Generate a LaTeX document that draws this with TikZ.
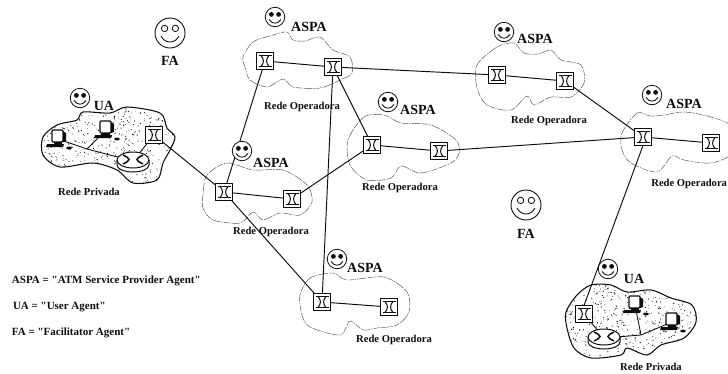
\documentclass[tikz,border=0pt]{standalone}
\usepackage{fontspec}
\setmainfont{Liberation Serif}
\newfontfamily\plainquotes[Ligatures=ResetAll]{Liberation Serif}
\usetikzlibrary{calc}
\definecolor{ink}{gray}{0.05}
\tikzset{
  x=1pt,y=-1pt,
  every node/.style={font=\bfseries,text=ink,inner sep=0pt,outer sep=0pt},
  agentlabel/.style={font=\bfseries\fontsize{14}{14}\selectfont},
  netlabel/.style={font=\bfseries\fontsize{10.6}{10}\selectfont},
  legend/.style={font=\plainquotes\bfseries\fontsize{11}{10}\selectfont,anchor=west},
  link/.style={draw=ink,line width=.95pt},
  thinlink/.style={draw=ink,line width=.85pt},
  cloudline/.style={draw=black!70,line width=.45pt,dash pattern=on 6pt off 1.1pt on 1.5pt off 1.1pt on 9pt off 1.4pt},
  privcloud/.style={draw=ink,line width=1.05pt},
  switchbox/.style={draw=ink,line width=1.2pt,fill=white,minimum width=17pt,minimum height=17pt,shape=rectangle},
  facebig/.style={draw=ink,line width=.9pt,shape=circle,minimum size=30pt,fill=white},
  facesmall/.style={draw=ink,line width=.8pt,shape=circle,minimum size=19.5pt,fill=white},
  routerbody/.style={draw=ink,line width=1pt,fill=white},
  cloudpath/.style={smooth cycle,tension=.5},
}
\newcommand{\swt}[2]{%
  \node[switchbox] (#1) at (#2) {};
  \draw[ink,line width=.9pt] ($(#1.north west)+(2,3)$) -- ($(#1.north east)+(-2,3)$);
  \draw[ink,line width=.9pt] ($(#1.south west)+(2,-3)$) -- ($(#1.south east)+(-2,-3)$);
  \draw[ink,line width=1pt] ($(#1.north)+(-4,3)$) .. controls ($(#1.center)+(-.8,-2)$) and ($(#1.center)+(-.8,2)$) .. ($(#1.south)+(-4,-3)$);
  \draw[ink,line width=1pt] ($(#1.north)+(4,3)$) .. controls ($(#1.center)+(.8,-2)$) and ($(#1.center)+(.8,2)$) .. ($(#1.south)+(4,-3)$);
}
\newcommand{\smil}[2]{%
  \node[facesmall] (#1) at (#2) {};
  \fill[ink] ($(#1.center)+(-3.6,-2.6)$) circle (2.4pt);
  \fill[ink] ($(#1.center)+(3.6,-2.6)$) circle (2.4pt);
  \draw[ink,line width=.8pt] ($(#1.center)+(-6,2.4)$) .. controls ($(#1.center)+(-3,7.5)$) and ($(#1.center)+(3,7.5)$) .. ($(#1.center)+(6,2.4)$);
}
\newcommand{\fac}[2]{%
  \node[facebig] (#1) at (#2) {};
  \draw[ink,line width=.8pt] ($(#1.center)+(-5.4,-4.6)$) circle (3.2pt);
  \draw[ink,line width=.8pt] ($(#1.center)+(5.4,-4.6)$) circle (3.2pt);
  \draw[ink,line width=.9pt] ($(#1.center)+(-9,3)$) .. controls ($(#1.center)+(-5,11)$) and ($(#1.center)+(5,11)$) .. ($(#1.center)+(9,3)$);
}
\newcommand{\pc}[2]{%
  \coordinate (#1) at (#2);
  \draw[ink,line width=1.3pt,fill=white,rounded corners=1pt] ($(#1)+(-6,-9)$) rectangle ($(#1)+(5,3)$);
  \fill[ink] ($(#1)+(5,-8)$) -- ($(#1)+(8,-6)$) -- ($(#1)+(8,2)$) -- ($(#1)+(5,3)$) -- cycle;
  \fill[ink] ($(#1)+(-11,5)$) -- ($(#1)+(6,5)$) -- ($(#1)+(5,8)$) -- ($(#1)+(-12,8)$) -- cycle;
  \fill[ink] ($(#1)+(-4,3)$) rectangle ($(#1)+(4,5)$);
  \fill[ink] ($(#1)+(11,9)$) ellipse (2.8pt and 1.5pt);
}
\newcommand{\rtr}[2]{%
  \coordinate (#1) at (#2);
  \draw[routerbody] ($(#1)+(-16,-1)$) -- ($(#1)+(-16,4)$) arc[start angle=180,end angle=360,x radius=16pt,y radius=7pt] -- ($(#1)+(16,-1)$);
  \draw[routerbody] ($(#1)+(0,-1)$) ellipse (16pt and 8pt);
  \draw[ink,line width=1.5pt] ($(#1)+(-10,-6)$) .. controls ($(#1)+(-2,-2)$) and ($(#1)+(-2,-1)$) .. ($(#1)+(-10,3)$);
  \draw[ink,line width=1.5pt] ($(#1)+(10,-6)$) .. controls ($(#1)+(2,-2)$) and ($(#1)+(2,-1)$) .. ($(#1)+(10,3)$);
}
\newcommand{\stipple}[4]{%
  \foreach \i in {1,...,#4}{%
    \pgfmathsetmacro{\px}{#1+rnd*#3}%
    \pgfmathsetmacro{\py}{#2+rnd*#3*.62}%
    \pgfmathsetmacro{\pr}{.3+rnd*.4}%
    \fill[ink] (\px,\py) circle (\pr pt);
  }%
}
\begin{document}
\begin{tikzpicture}
\useasboundingbox (0,0) rectangle (728,373);
\clip (0,0) rectangle (728,373);
\pgfmathsetseed{4242}

% operator clouds
\draw[cloudline] plot[cloudpath] coordinates {(243,57)(253,42)(273,35)(287,32)(293,40)(305,41)(320,37)(333,50)(350,57)(352,73)(340,80)(320,88)(293,87)(283,79)(267,87)(250,80)(245,67)};
\draw[cloudline] plot[cloudpath] coordinates {(477,65)(497,47)(514,43)(524,53)(538,54)(551,50)(561,60)(581,65)(584,83)(571,97)(551,97)(534,105)(527,96)(511,110)(487,105)(477,88)};
\draw[cloudline] plot[cloudpath] coordinates {(622,133)(637,113)(650,116)(664,115)(684,112)(711,117)(732,127)(732,153)(711,163)(684,160)(672,156)(657,172)(631,163)(622,150)};
\draw[cloudline] plot[cloudpath] coordinates {(348,140)(364,117)(384,115)(401,123)(431,125)(456,140)(459,153)(451,163)(421,173)(401,166)(391,178)(367,180)(350,165)};
\draw[cloudline] plot[cloudpath] coordinates {(207,175)(227,163)(253,170)(283,170)(307,185)(312,202)(300,215)(280,213)(263,220)(253,212)(240,223)(213,220)(203,208)(203,195)};
\draw[cloudline] plot[cloudpath] coordinates {(300,295)(310,278)(333,273)(347,280)(384,277)(407,292)(409,312)(397,325)(377,328)(363,330)(350,321)(340,335)(310,327)(302,315)};

% private clouds
\begin{scope}
\clip plot[cloudpath] coordinates {(43,137)(57,125)(77,120)(83,112)(110,113)(127,107)(160,113)(167,128)(175,137)(170,150)(163,163)(157,180)(133,183)(117,170)(93,163)(60,167)(43,155)};
\stipple{40}{105}{138}{620}
\end{scope}
\draw[privcloud] plot[cloudpath] coordinates {(43,137)(57,125)(77,120)(83,112)(110,113)(127,107)(160,113)(167,128)(175,137)(170,150)(163,163)(157,180)(133,183)(117,170)(93,163)(60,167)(43,155)};
\begin{scope}
\clip plot[cloudpath] coordinates {(566,312)(577,295)(591,285)(611,285)(627,292)(651,290)(671,298)(692,305)(696,322)(684,338)(661,345)(647,355)(627,348)(621,355)(591,358)(574,348)(567,328)};
\stipple{564}{283}{134}{620}
\end{scope}
\draw[privcloud] plot[cloudpath] coordinates {(566,312)(577,295)(591,285)(611,285)(627,292)(651,290)(671,298)(692,305)(696,322)(684,338)(661,345)(647,355)(627,348)(621,355)(591,358)(574,348)(567,328)};

% links inside private networks, under the devices
\coordinate (rl) at (133,161);
\coordinate (rr) at (604,338);
\coordinate (pcla) at (58,139);
\coordinate (pclb) at (106,130);
\coordinate (pcra) at (635,305);
\coordinate (pcrb) at (672,322);
\coordinate (jl) at (87,149);
\coordinate (jr) at (641,335);
\draw[thinlink] (pcla) -- (jl) -- (rl);
\draw[thinlink] (pclb) -- (jl);
\draw[thinlink] (rr) -- (jr) -- (pcrb);
\draw[thinlink] (pcra) -- (jr);

% switches
\swt{aone}{265,61}
\swt{atwo}{333,67}
\swt{bone}{497,75}
\swt{btwo}{565,81}
\swt{cone}{643,137}
\swt{ctwo}{711,143}
\swt{done}{372,145}
\swt{dtwo}{439,151}
\swt{eone}{224,192}
\swt{etwo}{292,199}
\swt{fone}{322,302}
\swt{ftwo}{389,307}
\swt{pl}{154,135}
\swt{pr}{584,314}

% devices
\pc{pcla}{58,139}
\pc{pclb}{106,130}
\pc{pcra}{635,305}
\pc{pcrb}{672,322}
\draw[thinlink] (pl) -- (rl);
\draw[thinlink] (pr) -- (rr);
\rtr{rl}{133,161}
\rtr{rr}{604,338}

% links
\draw[link] (aone) -- (atwo);
\draw[link] (atwo) -- (bone);
\draw[link] (bone) -- (btwo);
\draw[link] (btwo) -- (cone);
\draw[link] (cone) -- (ctwo);
\draw[link] (done) -- (dtwo);
\draw[link] (dtwo) -- (cone);
\draw[link] (eone) -- (etwo);
\draw[link] (etwo) -- (done);
\draw[link] (fone) -- (ftwo);
\draw[link] (aone) -- (eone);
\draw[link] (atwo) -- (done);
\draw[link] (atwo) -- (fone);
\draw[link] (eone) -- (fone);
\draw[link] (pl) -- (eone);
\draw[link] (cone.south) -- (pr.north);

% agents
\fac{faa}{170,33}
\fac{fab}{526,205}
\smil{sa}{275,17}
\smil{sb}{504,32}
\smil{sc}{652,95}
\smil{sd}{388,102}
\smil{se}{242,151}
\smil{sf}{337,259}
\smil{ul}{80,98}
\smil{ur}{608,269}

\node[agentlabel] (lfaa) at (170,61) {FA};
\node[agentlabel] (lfab) at (526,234) {FA};
\node[agentlabel] (lsa) at (309,27) {ASPA};
\node[agentlabel] (lsb) at (535,39) {ASPA};
\node[agentlabel] (lsc) at (684,104) {ASPA};
\node[agentlabel] (lsd) at (418,110) {ASPA};
\node[agentlabel] (lse) at (271,163) {ASPA};
\node[agentlabel] (lsf) at (365,268) {ASPA};
\node[agentlabel] (lul) at (104,106) {UA};
\node[agentlabel] (lur) at (634,279) {UA};

\node[netlabel] (na) at (302,107) {Rede Operadora};
\node[netlabel] (nb) at (549,121) {Rede Operadora};
\node[netlabel,anchor=east] (nc) at (727,184) {Rede Operadora};
\node[netlabel] (nd) at (400,188) {Rede Operadora};
\node[netlabel] (ne) at (271,232) {Rede Operadora};
\node[netlabel] (nf) at (394,340) {Rede Operadora};
\node[netlabel] (npl) at (89,192) {Rede Privada};
\node[netlabel] (npr) at (651,367) {Rede Privada};

\node[legend] (la) at (12,281) {ASPA = "ATM Service Provider Agent"};
\node[legend] (lb) at (13,307) {UA = "User Agent"};
\node[legend] (lc) at (12,333) {FA = "Facilitator Agent"};
\end{tikzpicture}
\end{document}
